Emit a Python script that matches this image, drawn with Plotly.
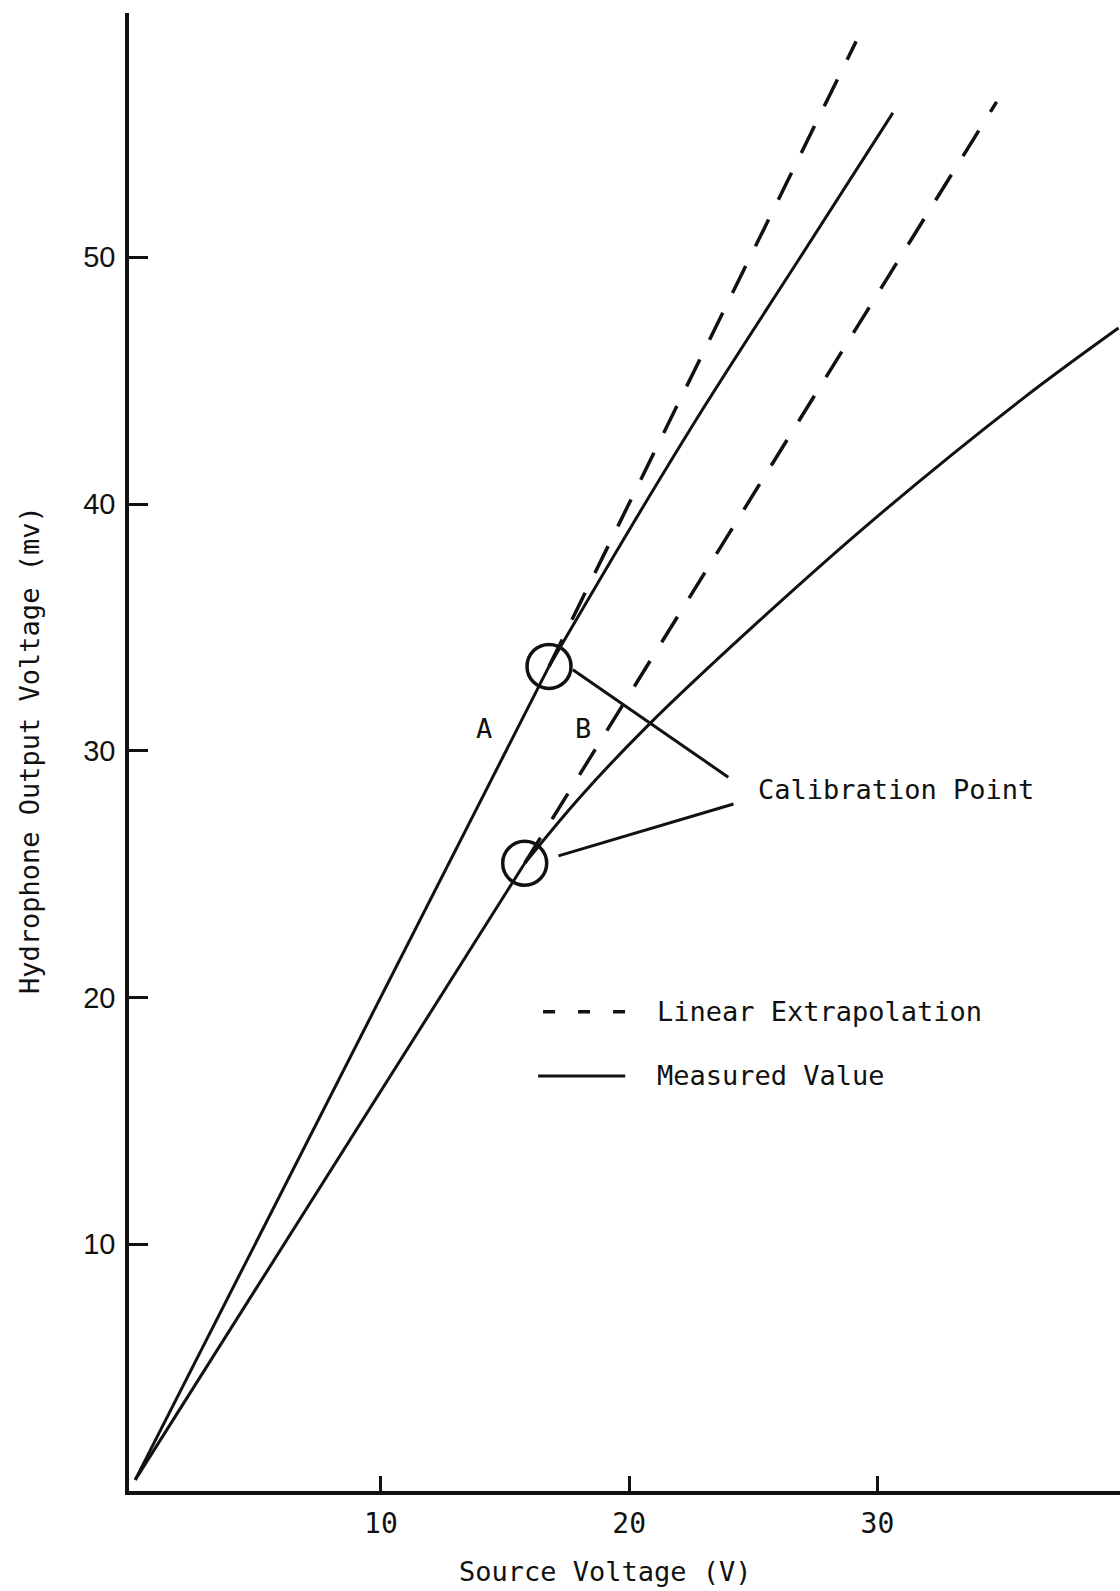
import plotly.graph_objects as go

# ---------------- data ----------------
# Curve A, measured: straight part up to calibration point, then curved part
a_low_x = [0.1, 16.77]
a_low_y = [0.45, 33.42]
a_up_x = [16.77, 20.0, 23.06, 26.89, 30.62]
a_up_y = [33.42, 38.95, 44.0, 50.0, 55.85]

a_ext_x = [16.77, 29.14]
a_ext_y = [33.42, 58.75]

# Curve B, measured
b_low_x = [0.1, 15.79]
b_low_y = [0.45, 25.44]
b_up_x = [15.79, 18.0, 20.71, 25.21, 30.0, 35.88, 39.71]
b_up_y = [25.44, 28.1, 30.98, 35.24, 39.5, 44.29, 47.13]

b_ext_x = [15.79, 34.8]
b_ext_y = [25.44, 56.3]

calib_x = [16.77, 15.79]
calib_y = [33.42, 25.44]

x_ticks = [10, 20, 30]
y_ticks = [10, 20, 30, 40, 50]

# ---------------- styling ----------------
INK = "#111111"
MONO = "DejaVu Sans Mono"
SANS = "Liberation Sans"
W, H = 1120, 1591
ML, MR, MT, MB = 129, 0, 13, 100
X_RANGE = [-0.15, 39.77]
Y_RANGE = [0, 59.9]

fig = go.Figure()

solid = dict(color=INK, width=3)
curved = dict(color=INK, width=3, shape="spline", smoothing=1.0)
dashed = dict(color=INK, width=3.5, dash="30px,22px")

for xs, ys, ln, nm in [
    (a_low_x, a_low_y, solid, "Measured Value (A)"),
    (a_up_x, a_up_y, curved, "Measured Value (A)"),
    (b_low_x, b_low_y, solid, "Measured Value (B)"),
    (b_up_x, b_up_y, curved, "Measured Value (B)"),
    (a_ext_x, a_ext_y, dashed, "Linear Extrapolation (A)"),
    (b_ext_x, b_ext_y, dashed, "Linear Extrapolation (B)"),
]:
    fig.add_trace(go.Scatter(x=xs, y=ys, mode="lines", line=ln, name=nm,
                             showlegend=False, cliponaxis=False))

shapes = []
# calibration circles (pixel-sized, anchored at data points)
for cx, cy in zip(calib_x, calib_y):
    shapes.append(dict(type="circle", xref="x", yref="y",
                       xsizemode="pixel", ysizemode="pixel",
                       xanchor=cx, yanchor=cy, x0=-22, x1=22, y0=-22, y1=22,
                       line=dict(color=INK, width=3.5)))

# leader lines from circles to the "Calibration Point" label
leaders = [((17.73, 33.28), (23.99, 28.93)),
           ((17.15, 25.74), (24.20, 27.84))]
for (x0, y0), (x1, y1) in leaders:
    shapes.append(dict(type="line", xref="x", yref="y", x0=x0, y0=y0, x1=x1, y1=y1,
                       line=dict(color=INK, width=3)))

# hand-drawn style key
shapes.append(dict(type="line", xref="x", yref="y", x0=16.53, x1=19.84, y0=19.42, y1=19.42,
                   line=dict(color=INK, width=3.5, dash="12px,23px")))
shapes.append(dict(type="line", xref="x", yref="y", x0=16.33, x1=19.84, y0=16.82, y1=16.82,
                   line=dict(color=INK, width=3)))

txt = dict(family=MONO, size=27, color=INK)
annotations = [
    dict(x=14.17, y=30.92, xref="x", yref="y", text="A", showarrow=False, font=txt),
    dict(x=18.13, y=30.92, xref="x", yref="y", text="B", showarrow=False, font=txt),
    dict(x=25.11, y=28.42, xref="x", yref="y", text="Calibration Point", showarrow=False,
         font=txt, xanchor="left"),
    dict(x=21.05, y=19.42, xref="x", yref="y", text="Linear Extrapolation", showarrow=False,
         font=txt, xanchor="left"),
    dict(x=21.05, y=16.82, xref="x", yref="y", text="Measured Value", showarrow=False,
         font=txt, xanchor="left"),
    # axis titles
    dict(x=(605 - ML) / (W - ML - MR), y=-(1571 - (H - MB)) / (H - MT - MB),
         xref="paper", yref="paper", xanchor="center", yanchor="middle",
         text="Source Voltage (V)", showarrow=False, font=txt),
    dict(x=-(ML - 29) / (W - ML - MR), y=((H - MB) - 750) / (H - MT - MB),
         xref="paper", yref="paper", xanchor="center", yanchor="middle",
         text="Hydrophone Output Voltage (mv)", showarrow=False,
         font=txt, textangle=-90),
]

fig.update_layout(
    width=W, height=H,
    margin=dict(l=ML, r=MR, t=MT, b=MB, pad=0),
    paper_bgcolor="white", plot_bgcolor="white",
    showlegend=False,
    shapes=shapes, annotations=annotations,
    xaxis=dict(range=X_RANGE, showgrid=False, zeroline=False,
               showline=True, linecolor=INK, linewidth=4,
               ticks="inside", tickvals=x_ticks, ticktext=[str(v) for v in x_ticks],
               ticklen=15, tickwidth=3, tickcolor=INK,
               tickfont=dict(family=MONO, size=28, color=INK),
               ticklabelstandoff=4),
    yaxis=dict(range=Y_RANGE, showgrid=False, zeroline=False,
               showline=True, linecolor=INK, linewidth=3.5,
               ticks="inside", tickvals=y_ticks, ticktext=[str(v) for v in y_ticks],
               ticklen=19, tickwidth=3, tickcolor=INK,
               tickfont=dict(family=SANS, size=29, color=INK),
               ticklabelstandoff=4),
)

fig.write_html("out.html")
